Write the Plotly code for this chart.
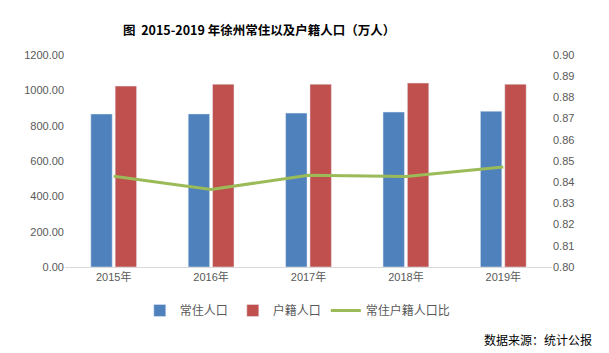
import plotly.graph_objects as go

years = ["2015年", "2016年", "2017年", "2018年", "2019年"]
resident = [866.0, 866.5, 871.0, 877.0, 882.0]
registered = [1024.0, 1035.0, 1035.0, 1041.0, 1035.0]
ratio = [0.8428, 0.8366, 0.8433, 0.8427, 0.8472]

left_ticks = [0, 200, 400, 600, 800, 1000, 1200]
right_ticks = [0.80, 0.81, 0.82, 0.83, 0.84, 0.85, 0.86, 0.87, 0.88, 0.89, 0.90]

cjk = "Noto Sans CJK SC"
tick_font = dict(family="Liberation Sans, " + cjk, size=11, color="#595959")

fig = go.Figure()
fig.add_trace(go.Bar(x=years, y=resident, name="常住人口", marker_color="#4F81BD",
                     yaxis="y"))
fig.add_trace(go.Bar(x=years, y=registered, name="户籍人口", marker_color="#C0504D",
                     yaxis="y"))
fig.add_trace(go.Scatter(x=years, y=ratio, name="常住户籍人口比", mode="lines",
                         line=dict(color="#9BBB59", width=3), yaxis="y2"))

fig.update_layout(
    width=609, height=353,
    margin=dict(l=65, r=57, t=55, b=86),
    paper_bgcolor="white", plot_bgcolor="white",
    barmode="group", bargap=0.5, bargroupgap=0.12,
    showlegend=True,
    legend=dict(orientation="h", x=0.478, y=-0.205, xanchor="center", yanchor="middle",
                font=dict(family=cjk, size=12, color="#595959"),
                itemwidth=30, tracegroupgap=0),
    xaxis=dict(showline=True, linecolor="#D9D9D9", linewidth=1, ticks="",
               tickfont=tick_font, showgrid=False),
    yaxis=dict(range=[0, 1200], tickvals=left_ticks,
               ticktext=[f"{v:.2f}" for v in left_ticks],
               showgrid=False, zeroline=False, tickfont=tick_font, ticks=""),
    yaxis2=dict(range=[0.80, 0.90], tickvals=right_ticks,
                ticktext=[f"{v:.2f}" for v in right_ticks],
                overlaying="y", side="right", showgrid=False, zeroline=False,
                tickfont=tick_font, ticks=""),
    annotations=[
        dict(text="<b>图  2015-2019 年徐州常住以及户籍人口（万人）</b>", xref="paper", yref="paper",
             x=(259 - 65) / 487, y=(266.7 - 29) / 212, xanchor="center", yanchor="middle",
             showarrow=False, font=dict(family=cjk, size=12.5, color="black")),
        dict(text="数据来源：统计公报", xref="paper", yref="paper",
             x=(594 - 65) / 487, y=(266.7 - 339) / 212, xanchor="right", yanchor="middle",
             showarrow=False, font=dict(family=cjk, size=12, color="black")),
    ],
)

fig.write_html("out.html")
